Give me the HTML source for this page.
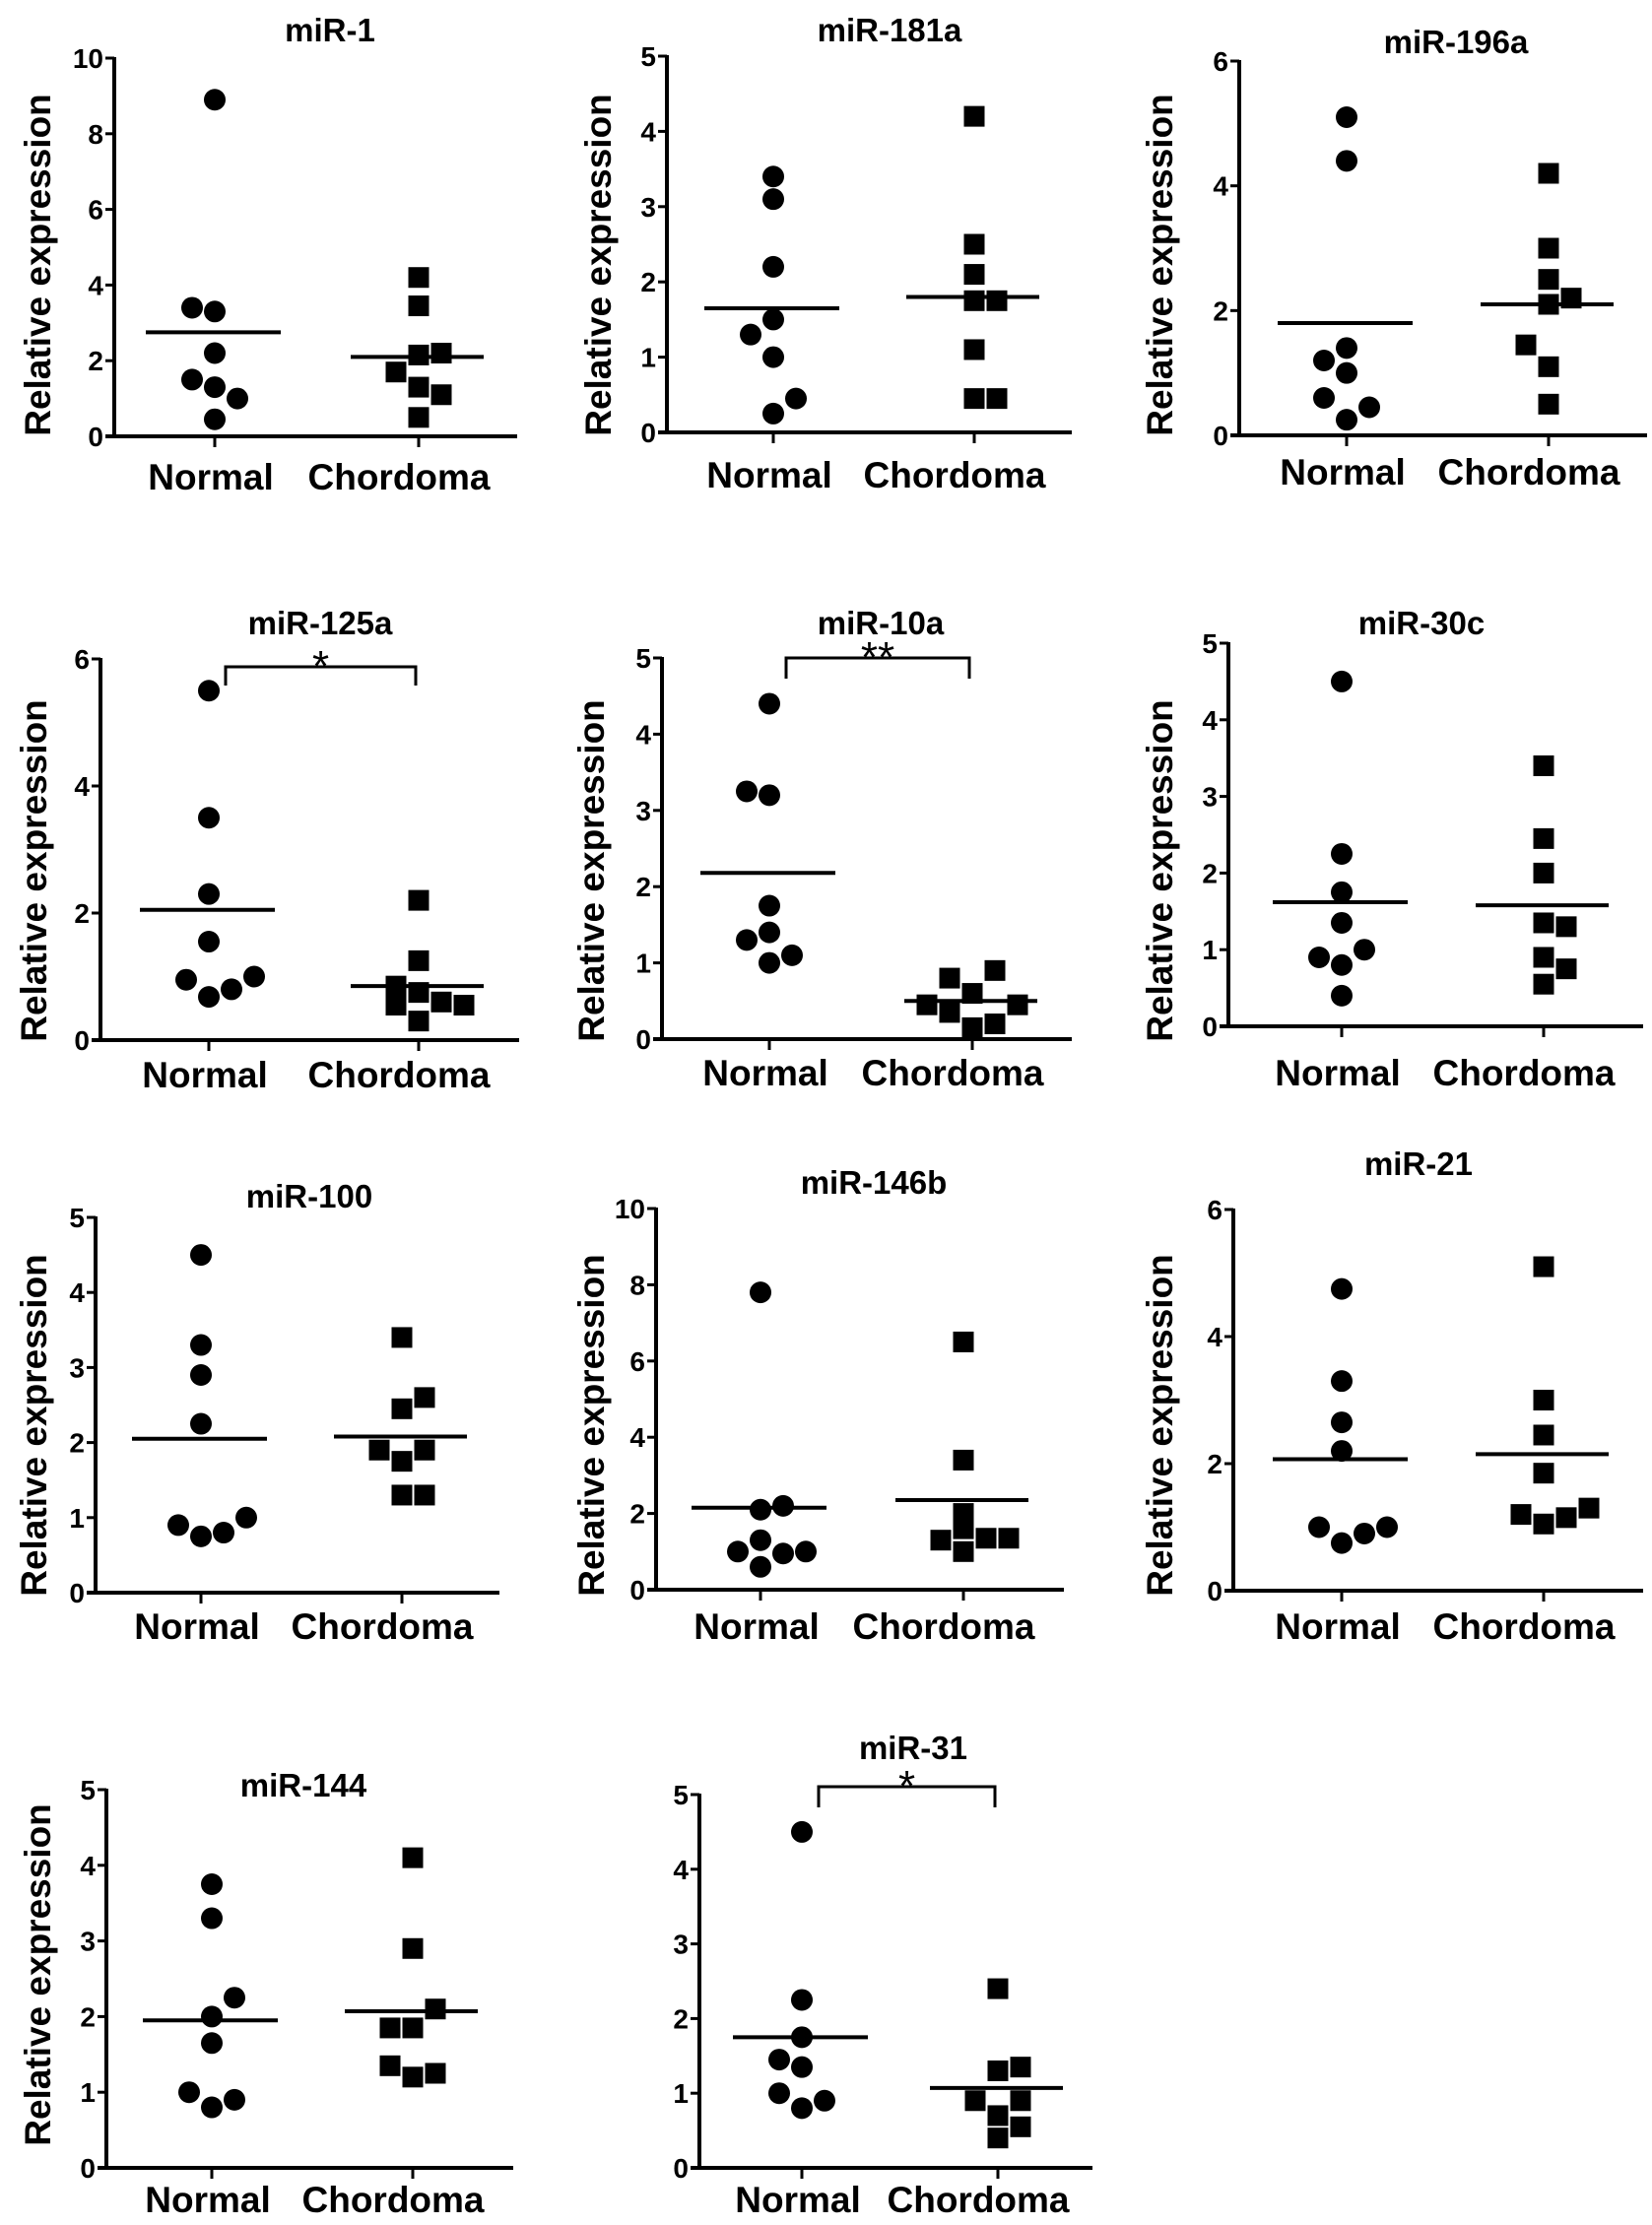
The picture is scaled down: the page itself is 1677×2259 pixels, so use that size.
<!DOCTYPE html>
<html><head><meta charset="utf-8"><style>
html,body{margin:0;padding:0;background:#fff;}
svg{display:block;font-family:"Liberation Sans",Arial,sans-serif;font-weight:bold;}
</style></head><body>
<svg id="fig" width="1677" height="2259" viewBox="0 0 1677 2259" xmlns="http://www.w3.org/2000/svg"></svg>
<script>
// ---- data ----
const titles = ["miR-1","miR-181a","miR-196a","miR-125a","miR-10a","miR-30c","miR-100","miR-146b","miR-21","miR-144","miR-31"];
const yMaxes = [10,5,6,6,5,5,5,10,6,5,5];
const tickSteps = [2,1,2,2,1,1,1,2,2,1,1];
const categories = ["Normal","Chordoma"];
const normalValues = [
 [8.9,3.4,3.3,2.2,1.5,1.3,1.0,0.45],
 [3.4,3.1,2.2,1.5,1.3,1.0,0.45,0.25],
 [5.1,4.4,1.4,1.2,1.0,0.6,0.45,0.25],
 [5.5,3.5,2.3,1.55,0.95,0.68,0.8,1.0],
 [4.4,3.25,3.2,1.75,1.4,1.3,1.1,1.0],
 [4.5,2.25,1.75,1.35,1.0,0.9,0.8,0.4],
 [4.5,3.3,2.9,2.25,0.9,0.75,0.8,1.0],
 [7.8,2.2,2.1,1.3,1.0,0.95,1.0,0.6],
 [4.75,3.3,2.65,2.2,1.0,0.75,0.9,1.0],
 [3.75,3.3,2.25,2.0,1.65,1.0,0.8,0.9],
 [4.5,2.25,1.75,1.45,1.35,1.0,0.8,0.9]
];
const normalJitter = [
 [0,-1,0,0,-1,0,1,0],[0,0,0,0,-1,0,1,0],[0,0,0,-1,0,-1,1,0],[0,0,0,0,-1,0,1,2],
 [0,-1,0,0,0,-1,1,0],[0,0,0,0,1,-1,0,0],[0,0,0,0,-1,0,1,2],[0,1,0,0,-1,1,2,0],
 [0,0,0,0,-1,0,1,2],[0,0,1,0,0,-1,0,1],[0,0,0,-1,0,-1,0,1]
];
const chordomaValues = [
 [4.2,3.45,2.15,2.2,1.7,1.3,1.1,0.5],
 [4.2,2.5,2.1,1.75,1.75,1.1,0.45,0.45],
 [4.2,3.0,2.5,2.2,2.1,1.45,1.1,0.5],
 [2.2,1.25,0.85,0.75,0.55,0.6,0.55,0.3],
 [0.8,0.9,0.6,0.45,0.35,0.45,0.15,0.2],
 [3.4,2.45,2.0,1.35,1.3,0.9,0.75,0.55],
 [3.4,2.6,2.45,1.9,1.9,1.75,1.3,1.3],
 [6.5,3.4,2.0,1.6,1.3,1.35,1.35,1.0],
 [5.1,3.0,2.45,1.85,1.2,1.05,1.15,1.3],
 [4.1,2.9,2.1,1.85,1.85,1.35,1.2,1.25],
 [2.4,1.3,1.35,0.9,0.9,0.7,0.55,0.4]
];
const chordomaJitter = [
 [0,0,0,1,-1,0,1,0],[0,0,0,0,1,0,0,1],[0,0,0,1,0,-1,0,0],[0,0,-1,0,-1,1,2,0],
 [-1,1,0,-2,-1,2,0,1],[0,0,0,0,1,0,1,0],[0,1,0,-1,1,0,0,1],[0,0,0,0,-1,1,2,0],
 [0,0,0,0,-1,0,1,2],[0,0,1,-1,0,-1,0,1],[0,0,1,-1,1,0,1,0]
];
const normalMeans = [2.75,1.65,1.8,2.05,2.18,1.62,2.05,2.15,2.07,1.95,1.75];
const chordomaMeans = [2.1,1.8,2.1,0.85,0.5,1.58,2.08,2.35,2.15,2.07,1.07];
const significance = [null,null,null,"*","**",null,null,null,null,null,"*"];

// ---- layout (pixel geometry, not data) ----
const layout = [
 {ax:116,y0:443,yT:59,xN:218,xC:425,xE:525,tx:335,ty:42,ly:497,ylx:38,yly:269},
 {ax:677,y0:439,yT:57,xN:785,xC:989,xE:1088,tx:903,ty:42,ly:495,ylx:607,yly:269},
 {ax:1258,y0:442,yT:62,xN:1367,xC:1572,xE:1672,tx:1478,ty:54,ly:492,ylx:1177,yly:269},
 {ax:102,y0:1056,yT:669,xN:212,xC:425,xE:527,tx:325,ty:644,ly:1104,ylx:34,yly:884,br:[677,696]},
 {ax:672,y0:1055,yT:668,xN:781,xC:987,xE:1088,tx:894,ty:644,ly:1102,ylx:600,yly:884,br:[668,689]},
 {ax:1247,y0:1042,yT:653,xN:1362,xC:1567,xE:1668,tx:1443,ty:644,ly:1102,ylx:1177,yly:884},
 {ax:97,y0:1617,yT:1236,xN:204,xC:408,xE:507,tx:314,ty:1226,ly:1664,ylx:34,yly:1447},
 {ax:666,y0:1614,yT:1227,xN:772,xC:978,xE:1080,tx:887,ty:1212,ly:1664,ylx:600,yly:1447},
 {ax:1252,y0:1615,yT:1228,xN:1362,xC:1567,xE:1668,tx:1440,ty:1193,ly:1664,ylx:1177,yly:1447},
 {ax:108,y0:2201,yT:1817,xN:215,xC:419,xE:521,tx:308,ty:1824,ly:2246,ylx:38,yly:2005},
 {ax:710,y0:2201,yT:1822,xN:814,xC:1013,xE:1109,tx:927,ty:1786,ly:2246,ylx:null,yly:0,br:[1814,1835]}
];
const JIT = 23, R = 11, SQ = 21;
const NS = "http://www.w3.org/2000/svg";
const fig = document.getElementById('fig');
function mk(tag, attrs, parent){ const e=document.createElementNS(NS,tag); for(const k in attrs) e.setAttribute(k,attrs[k]); (parent||fig).appendChild(e); return e; }

titles.forEach((t,i)=>{
  const L = layout[i];
  const yScale = v => L.y0 - (v / yMaxes[i]) * (L.y0 - L.yT);
  const g = mk('g',{});
  
  
  const title = mk('text',{x:L.tx,y:L.ty,'font-size':33,'text-anchor':'middle'},g);
  title.textContent = t;
  
  
  const yaxis = mk('line',{x1:L.ax,y1:L.yT-1,x2:L.ax,y2:L.y0+2,stroke:'#000','stroke-width':4},g);
  
  
  const xaxis = mk('line',{x1:L.ax-9,y1:L.y0,x2:L.xE,y2:L.y0,stroke:'#000','stroke-width':4},g);
  
  
  for(let v=0; v<=yMaxes[i]+1e-9; v+=tickSteps[i]){
    const y = yScale(v);
    const tk = mk('line',{x1:L.ax-9,y1:y,x2:L.ax,y2:y,stroke:'#000','stroke-width':3},g);
    
    
    const tl = mk('text',{x:L.ax-11,y:y+10,'font-size':28,'text-anchor':'end'},g);
    tl.textContent = String(v);
    
    
  }
  [L.xN, L.xC].forEach((cx,ci)=>{
    const tk = mk('line',{x1:cx,y1:L.y0,x2:cx,y2:L.y0+11,stroke:'#000','stroke-width':3},g);
    
    
    const lb = mk('text',{x:cx-4+ci*-16,y:L.ly,'font-size':37,'text-anchor':'middle'},g);
    lb.textContent = categories[ci];
    
    
  });
  if(L.ylx!==null){
    const yl = mk('text',{x:0,y:0,'font-size':37,'text-anchor':'middle',transform:`translate(${L.ylx+13},${L.yly}) rotate(-90)`},g);
    yl.textContent = 'Relative expression';
    
    
  }
  normalValues[i].forEach((v,k)=>{
    const c = mk('circle',{cx:L.xN + normalJitter[i][k]*JIT, cy:yScale(v), r:R, fill:'#000'},g);
    
    
  });
  chordomaValues[i].forEach((v,k)=>{
    const s = mk('rect',{x:L.xC + chordomaJitter[i][k]*JIT - SQ/2, y:yScale(v)-SQ/2, width:SQ, height:SQ, fill:'#000'},g);
    
    
  });
  const mn = mk('line',{x1:L.xN-70,y1:yScale(normalMeans[i]),x2:L.xN+67,y2:yScale(normalMeans[i]),stroke:'#000','stroke-width':4},g);
  
  
  const mc = mk('line',{x1:L.xC-69,y1:yScale(chordomaMeans[i]),x2:L.xC+66,y2:yScale(chordomaMeans[i]),stroke:'#000','stroke-width':4},g);
  
  
  if(significance[i] && L.br){
    const bx1 = L.xN+17, bx2 = L.xC-3;
    const br = mk('path',{d:`M${bx1},${L.br[1]} L${bx1},${L.br[0]} L${bx2},${L.br[0]} L${bx2},${L.br[1]}`,fill:'none',stroke:'#000','stroke-width':3},g);
    
    
    const st = mk('text',{x:(bx1+bx2)/2,y:L.br[0]+14,'font-size':44,'font-weight':'normal','text-anchor':'middle'},g);
    st.textContent = significance[i];
    
    
  }
});
</script>
</body></html>
